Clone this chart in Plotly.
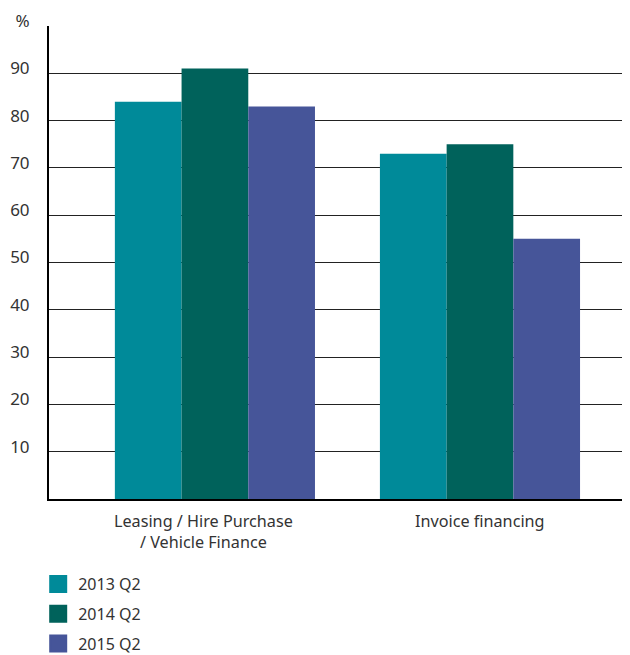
import plotly.graph_objects as go

# Chart data
categories = ['Leasing / Hire Purchase<br>/ Vehicle Finance', 'Invoice financing']
series_names = ['2013 Q2', '2014 Q2', '2015 Q2']
values_2013 = [84, 73]
values_2014 = [91, 75]
values_2015 = [83, 55]
y_ticks = [0, 10, 20, 30, 40, 50, 60, 70, 80, 90, 100]
y_tick_labels = ['', '10', '20', '30', '40', '50', '60', '70', '80', '90', '%']

colors = ['#008A99', '#00625B', '#465599']
font_name = 'Noto Sans'
text_color = '#333333'
label_nudge = [-11, 0]  # first category label sits a little left of its bars

# the page body adds an 8px margin, so the figure is 8px smaller each way
W, H = 622, 647

fig = go.Figure()

# bars, positioned on a numeric axis so the groups can sit off-centre like the original
x_pos = list(range(len(categories)))
for name, vals, col in zip(series_names, [values_2013, values_2014, values_2015], colors):
    fig.add_trace(go.Bar(
        x = x_pos,
        y = vals,
        name = name,
        marker = dict(color = col, line = dict(width = 0)),
        showlegend = False))

# legend entries (bigger squares than the default bar swatch)
for name, col in zip(series_names, colors):
    fig.add_trace(go.Scatter(
        x = [None],
        y = [None],
        mode = 'markers',
        name = name,
        legendgroup = name,
        marker = dict(color = col, symbol = 'square', size = 16,
                      line = dict(color = col, width = 2))))

# category labels under each group
for xp, label, nudge in zip(x_pos, categories, label_nudge):
    fig.add_annotation(
        x = xp, xref = 'x',
        y = 0, yref = 'paper',
        yanchor = 'top',
        xanchor = 'center',
        yshift = -9,
        xshift = nudge,
        text = label,
        showarrow = False,
        align = 'center',
        font = dict(family = font_name, size = 16.2, color = text_color))

fig.update_layout(
    barmode = 'group',
    bargap = 0.245,
    bargroupgap = 0,
    width = W,
    height = H,
    margin = dict(l = 41, r = 0, t = 18, b = 156, autoexpand = False),
    plot_bgcolor = 'white',
    paper_bgcolor = 'white',
    font = dict(family = font_name, size = 15, color = text_color),
    xaxis = dict(
        tickvals = x_pos,
        range = [-0.626, 1.566],
        showticklabels = False,
        showgrid = False,
        showline = True,
        linecolor = 'black',
        linewidth = 2,
        ticks = '',
        zeroline = False,
        automargin = False),
    yaxis = dict(
        range = [0, 100],
        tickmode = 'array',
        tickvals = y_ticks,
        ticktext = y_tick_labels,
        showgrid = True,
        gridcolor = '#222222',
        gridwidth = 1,
        showline = True,
        linecolor = 'black',
        linewidth = 2,
        ticks = '',
        zeroline = False,
        automargin = False,
        ticklabelstandoff = 14,
        ticklabelshift = -5,
        tickfont = dict(family = font_name, size = 17, color = text_color)),
    legend = dict(
        xref = 'container',
        yref = 'container',
        x = 30.2 / W,
        y = 1 - 559 / H,
        xanchor = 'left',
        yanchor = 'top',
        font = dict(family = font_name, size = 16, color = text_color),
        tracegroupgap = 6,
        bgcolor = 'rgba(0,0,0,0)'))

fig.write_html("out.html")
